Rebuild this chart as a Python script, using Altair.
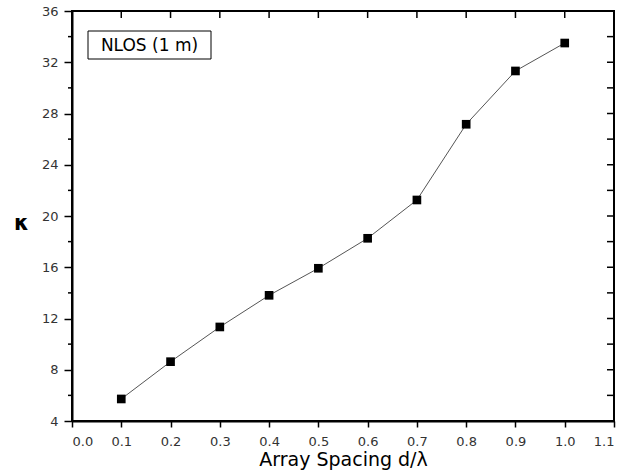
import altair as alt
import pandas as pd

# Measured coupling values versus element spacing
spacing = [0.1, 0.2, 0.3, 0.4, 0.5, 0.6, 0.7, 0.8, 0.9, 1.0]
kappa = [5.72, 8.63, 11.34, 13.81, 15.92, 18.26, 21.25, 27.16, 31.32, 33.5]

# Tick positions
x_ticks = [0.0, 0.1, 0.2, 0.3, 0.4, 0.5, 0.6, 0.7, 0.8, 0.9, 1.0, 1.1]
y_major = [4, 8, 12, 16, 20, 24, 28, 32, 36]
y_minor = [6, 10, 14, 18, 22, 26, 30, 34]
y_right = [6, 8, 10, 12, 14, 16, 18, 20, 22, 24, 26, 28, 30, 32, 34]
box_label = ["NLOS (1 m)"]

W, H = 542, 410
FONT = "DejaVu Sans"

x_scale = alt.Scale(domain=[0, 1.1], nice=False, zero=False)
y_scale = alt.Scale(domain=[4, 36], nice=False, zero=False)

df = pd.DataFrame({"d": spacing, "k": kappa})

line = alt.Chart(df).mark_line(color="#555555", strokeWidth=1).encode(
    x=alt.X(
        "d:Q",
        scale=x_scale,
        axis=alt.Axis(
            values=x_ticks,
            format=".1f",
            title="Array Spacing d/λ",
            tickSize=6,
            labelPadding=8,
            titleBaseline="alphabetic",
            titleY=44,
            titleFontSize=19,
        ),
    ),
    y=alt.Y(
        "k:Q",
        scale=y_scale,
        axis=alt.Axis(
            values=y_major,
            format="d",
            title="κ",
            titleAngle=0,
            titleAlign="center",
            titleBaseline="middle",
            titleX=-51,
            titleY=212,
            titleFontSize=21,
            titleFontWeight="bold",
            tickSize=8,
            labelPadding=6,
        ),
    ),
)

points = alt.Chart(df).mark_square(size=75, color="black", opacity=1).encode(
    x=alt.X("d:Q", scale=x_scale),
    y=alt.Y("k:Q", scale=y_scale),
)

# Inward ticks along the top edge
top_ticks = alt.Chart(pd.DataFrame({"d": x_ticks})).mark_rule(
    color="black", strokeWidth=1.5
).encode(x=alt.X("d:Q", scale=x_scale), y=alt.value(0), y2=alt.value(7))

# Inward ticks along the right edge
right_ticks = alt.Chart(pd.DataFrame({"k": y_right})).mark_rule(
    color="black", strokeWidth=1.5
).encode(y=alt.Y("k:Q", scale=y_scale), x=alt.value(W - 7), x2=alt.value(W))

# Short minor ticks on the left axis
minor_ticks = alt.Chart(pd.DataFrame({"k": y_minor})).mark_rule(
    color="black", strokeWidth=1.5
).encode(y=alt.Y("k:Q", scale=y_scale), x=alt.value(-4), x2=alt.value(0))

# Boxed annotation in the upper-left corner
label_df = pd.DataFrame({"label": box_label})
box = alt.Chart(label_df).mark_rect(
    fill="white", stroke="black", strokeWidth=1
).encode(x=alt.value(16), x2=alt.value(139), y=alt.value(20), y2=alt.value(48))
box_text = alt.Chart(label_df).mark_text(
    font=FONT, fontSize=17, color="black", align="center", baseline="middle"
).encode(x=alt.value(77.5), y=alt.value(34.5), text="label:N")

chart = (
    alt.layer(line, points, top_ticks, right_ticks, minor_ticks, box, box_text)
    .properties(
        width=W,
        height=H,
        autosize=alt.AutoSizeParams(type="none"),
        padding={"left": 72, "top": 11, "right": 23, "bottom": 54},
        background="white",
    )
    .configure_view(stroke="black", strokeWidth=2)
    .configure_axis(
        grid=False,
        domainColor="black",
        domainWidth=2,
        tickColor="black",
        tickWidth=1.5,
        labelFont=FONT,
        labelFontSize=13,
        labelColor="#333333",
        titleFont=FONT,
        titleColor="black",
        titleFontWeight="normal",
    )
)

chart.save("out.html", embed_options={"renderer": "svg", "actions": False})
